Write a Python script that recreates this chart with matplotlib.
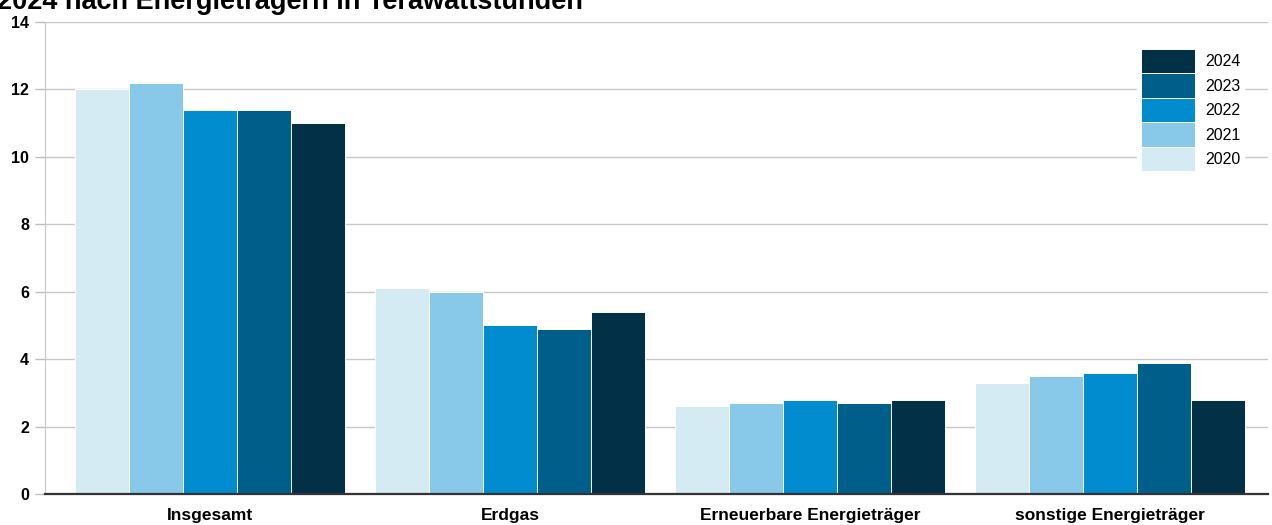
import matplotlib.pyplot as plt
import numpy as np
from matplotlib.patches import Patch

plt.rcParams['font.family'] = ['Liberation Sans', 'DejaVu Sans']

categories = ['Insgesamt', 'Erdgas', 'Erneuerbare Energieträger', 'sonstige Energieträger']
years = ['2020', '2021', '2022', '2023', '2024']
values = {
    '2020': [12.0, 6.1, 2.6, 3.3],
    '2021': [12.2, 6.0, 2.7, 3.5],
    '2022': [11.4, 5.0, 2.8, 3.6],
    '2023': [11.4, 4.9, 2.7, 3.9],
    '2024': [11.0, 5.4, 2.8, 2.8],
}
colors = ['#d5ebf3', '#88c8e8', '#008ccf', '#005e8a', '#013047']
yticks = [0, 2, 4, 6, 8, 10, 12, 14]

W, H = 1272, 525
fig = plt.figure(figsize=(W / 100, H / 100), dpi=100)
ax = fig.add_axes([45 / W, 1 - 494 / H, (1268 - 45) / W, (494 - 22) / H])

x = np.arange(len(categories))
bar_w = 0.18
for i, (year, col) in enumerate(zip(years, colors)):
    ax.bar(x + (i - 2) * bar_w, values[year], bar_w, color=col,
           edgecolor='white', linewidth=0.7, zorder=3)

ax.set_xlim(-0.55, 3.527)
ax.set_ylim(0, 14)
ax.set_yticks(yticks)
ax.set_yticklabels([str(v) for v in yticks], fontsize=11.5, fontweight='bold')
ax.set_xticks(x)
ax.set_xticklabels(categories, fontsize=12.5, fontweight='bold')
ax.tick_params(axis='x', length=0, pad=10)
ax.tick_params(axis='y', length=7.5, width=1, color='#bdbdbd', pad=4)

ax.grid(axis='y', color='#c8c8c8', linewidth=1, zorder=0)
for s in ['top', 'right']:
    ax.spines[s].set_visible(False)
ax.spines['left'].set_color('#c8c8c8')
ax.spines['bottom'].set_color('#333333')
ax.spines['bottom'].set_linewidth(1.6)
ax.spines['bottom'].set_zorder(4)

# legend: newest year on top, swatches stacked almost touching
handles = [Patch(facecolor=c, edgecolor='white', linewidth=0.7, label=y)
           for y, c in zip(years, colors)][::-1]
leg = ax.legend(handles=handles, loc='upper left',
                bbox_to_anchor=(1137 / W, 1 - 45 / H), bbox_transform=fig.transFigure,
                fontsize=11.5, frameon=True, fancybox=False, framealpha=1,
                edgecolor='white', borderpad=0.25, borderaxespad=0,
                handlelength=3.35, handleheight=1.95, handletextpad=0.65,
                labelspacing=0.02)
leg.set_zorder(5)

fig.text(-0.002, 1 - 9 / H, '2024 nach Energieträgern in Terawattstunden',
         fontsize=19.5, fontweight='bold', ha='left', va='baseline')

fig.savefig('out.png', dpi=100)
